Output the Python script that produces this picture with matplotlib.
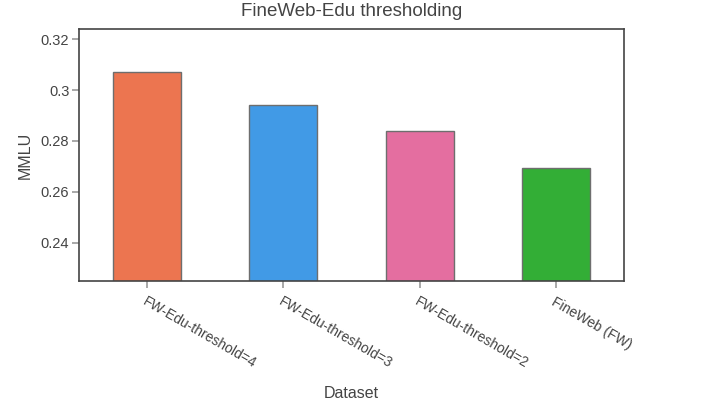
import matplotlib
matplotlib.use("Agg")
import matplotlib.pyplot as plt

categories = ["FW-Edu-threshold=4", "FW-Edu-threshold=3", "FW-Edu-threshold=2", "FineWeb (FW)"]
mmlu = [0.3072, 0.2940, 0.2838, 0.2693]
colors = ["#EC7550", "#419AE6", "#E46EA0", "#33AE36"]
yticks = [0.24, 0.26, 0.28, 0.30, 0.32]
ytick_labels = ["0.24", "0.26", "0.28", "0.3", "0.32"]

plt.rcParams["font.family"] = ["Liberation Sans", "DejaVu Sans"]
text_color = "#444444"

fig = plt.figure(figsize=(7.04, 4.0), dpi=100)
ax = fig.add_axes([79/704, 1-281/400, (624-79)/704, (281-29)/400])

x = list(range(len(categories)))
ax.bar(x, mmlu, width=0.5, color=colors, edgecolor="#6e6e6e", linewidth=1.0, zorder=2)

ax.set_xlim(-0.5, len(categories) - 0.5)
ax.set_ylim(0.2249, 0.3240)
ax.set_yticks(yticks)
ax.set_yticklabels(ytick_labels)
ax.set_xticks(x)
ax.set_xticklabels(categories, rotation=-30, ha="left", va="top", rotation_mode="anchor")

for lbl in ax.get_xticklabels():
    lbl.set_fontsize(10)
    lbl.set_color(text_color)
for lbl in ax.get_yticklabels():
    lbl.set_fontsize(10.5)
    lbl.set_color(text_color)

ax.tick_params(axis="both", direction="out", length=5, width=1.2, color="#999999")
ax.tick_params(axis="x", pad=5)
ax.tick_params(axis="y", pad=2)

for s in ax.spines.values():
    s.set_color("#444444")
    s.set_linewidth(1.2)

ax.set_ylabel("MMLU", fontsize=11.5, color=text_color, labelpad=6)
ax.set_xlabel("Dataset", fontsize=11.5, color=text_color)
ax.xaxis.set_label_coords(0.5, -(386-281)/252, transform=ax.transAxes)
fig.text(352/704, 1-12/400, "FineWeb-Edu thresholding", ha="center", va="center",
         fontsize=13.5, color=text_color)

fig.savefig("out.png", dpi=100)
